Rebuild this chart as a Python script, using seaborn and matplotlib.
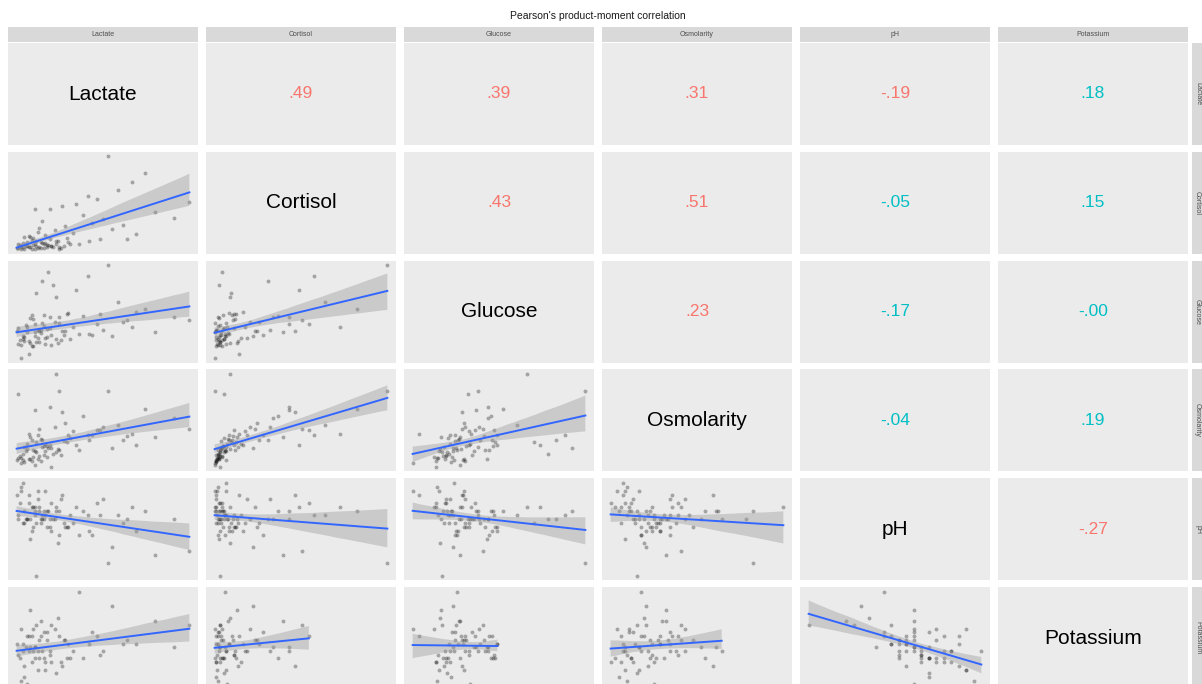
import matplotlib
matplotlib.use("Agg")
import matplotlib.pyplot as plt
import numpy as np
import pandas as pd
import seaborn as sns

# --- Data (one row per patient, Potassium missing for some) ---
variables = ["Lactate", "Cortisol", "Glucose", "Osmolarity", "pH", "Potassium"]

lactate = [1.2, 1.5, 2.1, 1.8, 2.6, 3.1, 1.4, 2.3, 2.9, 3.4, 1.9, 2.4, 3.7, 1.1, 2.7, 3.9,
           2.2, 3.3, 1.6, 2.8, 4.2, 2.0, 3.5, 1.3, 2.5, 4.5, 3.0, 1.7, 3.8, 2.3, 4.8, 2.9,
           1.4, 3.6, 5.2, 2.1, 4.0, 1.9, 3.2, 2.6, 6.1, 5.5, 4.4, 6.8, 3.3, 7.4, 5.0, 8.1,
           2.8, 6.4, 9.0, 4.1, 7.8, 10.2, 5.8, 11.5, 8.7, 12.5, 9.6, 7.1, 3.7, 1.5, 2.4, 3.1,
           1.8, 2.7, 4.6, 2.2, 3.4, 1.2, 5.9, 2.5, 3.9, 1.6, 2.0, 6.6, 4.3, 3.0, 2.3, 8.4]
cortisol = [3.5, 4.2, 3.1, 5.6, 4.8, 6.3, 2.8, 7.1, 3.9, 5.2, 4.5, 9.8, 6.8, 3.3, 8.4, 4.1,
            5.9, 11.2, 3.0, 7.6, 5.4, 12.8, 4.6, 6.0, 3.7, 8.9, 14.5, 5.0, 9.3, 2.6, 16.2, 6.5,
            4.0, 18.4, 7.3, 10.6, 3.4, 13.7, 5.8, 20.5, 24.3, 31.0, 12.0, 27.5, 35.8, 19.6, 40.2, 22.7,
            26.3, 44.8, 15.4, 38.5, 52.0, 33.4, 47.1, 28.9, 58.6, 41.7, 66.3, 80.0, 9.5, 7.9, 5.1, 4.4,
            8.2, 3.2, 6.9, 11.9, 4.9, 6.6, 9.1, 17.3, 2.9, 13.1, 4.7, 11.4, 21.8, 7.7, 36.0, 10.8]
glucose = [6.1, 7.4, 5.8, 8.9, 6.7, 9.5, 3.0, 7.9, 10.2, 8.3, 6.9, 17.8, 7.2, 9.1, 8.6, 12.3,
           5.6, 9.8, 7.7, 10.9, 8.1, 6.4, 19.5, 7.0, 9.3, 13.2, 7.5, 10.5, 6.3, 8.8, 9.9, 12.8,
           6.0, 11.1, 8.4, 12.7, 7.1, 3.8, 22.4, 9.0, 8.2, 12.5, 13.0, 9.4, 12.2, 7.9, 18.5, 11.2,
           20.4, 10.6, 13.3, 9.0, 15.7, 8.8, 21.5, 12.2, 10.1, 11.5, 14.0, 24.0, 16.9, 8.0, 6.6, 7.8,
           10.0, 9.4, 7.3, 11.8, 5.9, 9.7, 8.5, 7.6, 11.0, 6.8, 12.1, 12.9, 9.2, 6.2, 10.7, 11.7]
osmolarity = [284, 288, 281, 292, 286, 295, 279, 290, 287, 293, 283, 298, 289, 282, 301, 291,
              285, 296, 280, 294, 299, 303, 288, 286, 283, 305, 297, 290, 292, 278, 308, 295,
              284, 312, 291, 300, 287, 306, 293, 310, 305, 322, 298, 312, 330, 293, 296, 300,
              300, 309, 296, 326, 314, 303, 305, 320, 306, 310, 328, 345, 360, 282, 289, 285,
              297, 281, 302, 291, 276, 342, 300, 305, 345, 294, 283, 309, 316, 290, 327, 304]
ph = [7.32, 7.28, 7.36, 7.30, 7.34, 7.26, 7.44, 7.32, 7.30, 7.24, 7.38, 7.28, 7.34, 7.42, 7.30, 7.22,
      7.36, 7.26, 7.34, 7.32, 7.28, 7.30, 7.30, 7.38, 7.44, 7.26, 7.32, 7.30, 7.18, 7.36, 7.28, 7.34,
      7.46, 7.30, 7.22, 7.24, 7.40, 7.42, 7.34, 7.36, 7.22, 7.34, 7.26, 7.40, 7.30, 7.16, 7.36, 7.28,
      7.30, 7.38, 7.24, 7.42, 7.32, 7.12, 7.32, 7.30, 7.36, 7.14, 7.34, 7.08, 7.36, 7.48, 7.02, 7.34,
      7.30, 7.28, 7.32, 7.26, 7.38, 7.30, 7.24, 7.40, 7.34, 7.28, 7.20, 7.32, 7.26, 7.44, 7.34, 7.30]
potassium = [4.1, 4.4, 3.9, 4.6, 4.0, 4.5, 4.8, 4.3, 4.7, 4.9, 4.2, np.nan, 3.6, 4.4, 5.0, 4.6,
             4.8, 4.1, 3.5, 4.2, 4.5, 5.3, np.nan, 4.0, 3.7, 4.4, 3.9, 4.3, 5.1, 4.0, 4.2, 4.0,
             3.4, 4.8, 5.8, 4.6, 3.9, 4.6, np.nan, 4.5, 4.7, 4.0, 4.0, 4.2, 4.2, 5.4, np.nan, 4.4,
             np.nan, 4.6, 4.4, 3.8, np.nan, 5.0, np.nan, 4.3, np.nan, 4.9, np.nan, np.nan, np.nan, 4.2, 4.9, 4.7,
             3.3, 4.6, 4.0, 4.2, 3.9, np.nan, 4.4, 4.2, np.nan, 3.8, 4.3, 4.1, 4.5, 3.7, 4.3, 4.5]

# correlations printed in the upper triangle (row-major) and whether they are significant
r_values = [.49, .39, .31, -.19, .18,
            .43, .51, -.05, .15,
            .23, -.17, -0.00,
            -.04, .19,
            -.27]
significant = [1, 1, 1, 1, 0,
               1, 1, 0, 0,
               1, 0, 0,
               0, 0,
               1]

df = pd.DataFrame({"Lactate": lactate, "Cortisol": cortisol, "Glucose": glucose,
                   "Osmolarity": osmolarity, "pH": ph, "Potassium": potassium})

plt.rcParams["font.family"] = ["Liberation Sans", "DejaVu Sans"]

W, H = 1202, 684
fig = plt.figure(figsize=(W / 100, H / 100), dpi=100)


def add_px_axes(x, y, w, h):
    return fig.add_axes([x / W, 1 - (y + h) / H, w / W, h / H])


def pad_range(s):
    lo, hi = s.min(), s.max()
    d = (hi - lo) * 0.05
    return lo - d, hi + d


panel_w, panel_h = 190, 102
col_x = [8 + c * 198 for c in range(6)]
row_y = [43 + r * 108.8 for r in range(6)]
red, teal = "#F8766D", "#00BFC4"

fig.text(598 / W, 1 - 16 / H, "Pearson's product-moment correlation",
         ha="center", va="center", fontsize=7.5, color="#1a1a1a")

k = 0
for i, row_var in enumerate(variables):
    for j, col_var in enumerate(variables):
        ax = add_px_axes(col_x[j], row_y[i], panel_w, panel_h)
        ax.set_facecolor("#EBEBEB")
        for s in ax.spines.values():
            s.set_visible(False)
        if i > j:
            sns.regplot(data=df, x=col_var, y=row_var, ax=ax, ci=95,
                        scatter_kws=dict(s=8, color="black", alpha=0.3, linewidths=0),
                        line_kws=dict(color="#3366FF", lw=1.4))
            band = ax.collections[-1]
            band.set_facecolor("#999999")
            band.set_alpha(0.4)
            ax.set_xlim(pad_range(df[col_var]))
            ax.set_ylim(pad_range(df[row_var]))
        elif i == j:
            ax.text(0.5, 0.5, row_var, transform=ax.transAxes, ha="center",
                    va="center", fontsize=15, color="black")
        else:
            r = r_values[k]
            lab = f"{r:.2f}".replace("0.", ".")
            ax.text(0.5, 0.5, lab, transform=ax.transAxes, ha="center", va="center",
                    fontsize=12.5, color=red if significant[k] else teal)
            k += 1
        ax.set_xticks([])
        ax.set_yticks([])
        ax.set_xlabel("")
        ax.set_ylabel("")

# column strips on top
for j, name in enumerate(variables):
    ax = add_px_axes(col_x[j], 27, panel_w, 15)
    ax.set_facecolor("#D9D9D9")
    ax.set_xticks([]); ax.set_yticks([])
    for s in ax.spines.values():
        s.set_visible(False)
    ax.text(0.5, 0.5, name, transform=ax.transAxes, ha="center", va="center",
            fontsize=5, color="#4D4D4D")

# row strips on the right
for i, name in enumerate(variables):
    ax = add_px_axes(1192, row_y[i], 16, panel_h)
    ax.set_facecolor("#D9D9D9")
    ax.set_xticks([]); ax.set_yticks([])
    for s in ax.spines.values():
        s.set_visible(False)
    ax.text(0.35, 0.5, name, transform=ax.transAxes, ha="center", va="center",
            fontsize=5, color="#4D4D4D", rotation=-90)

fig.savefig("out.png", dpi=100)
